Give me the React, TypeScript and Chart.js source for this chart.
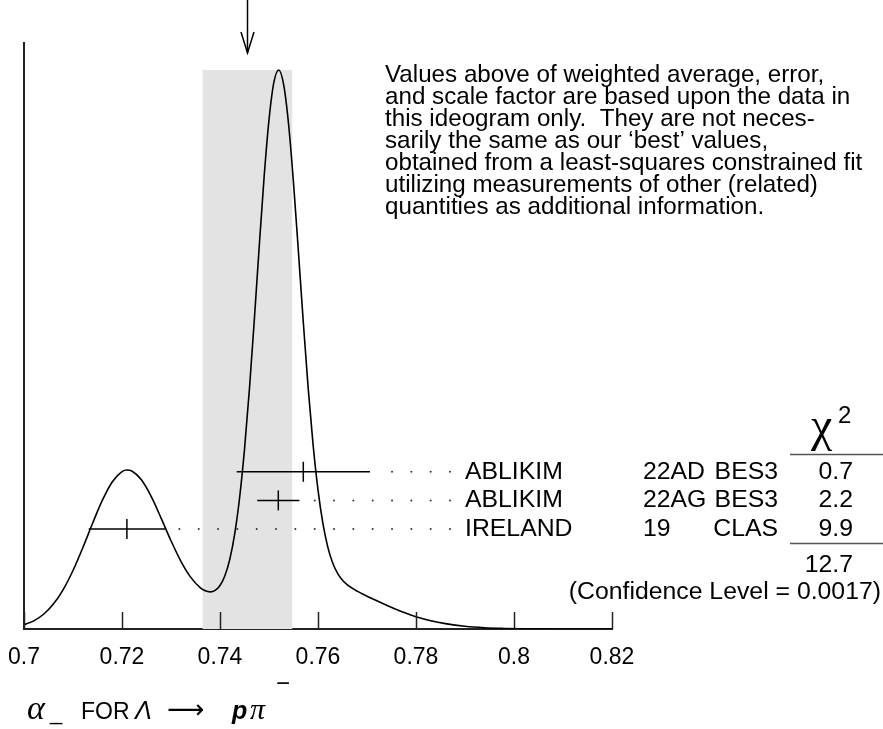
import React, { useEffect, useRef } from 'react';
import { Chart, registerables } from 'chart.js';

Chart.register(...registerables);

// ---------------- data ----------------
const curveX = [
  0.700, 0.702, 0.704, 0.706, 0.708, 0.710, 0.712, 0.714, 0.716, 0.718,
  0.720, 0.721, 0.722, 0.724, 0.726, 0.728, 0.730, 0.732, 0.734, 0.736,
  0.737, 0.738, 0.739, 0.740, 0.741, 0.742, 0.743, 0.744, 0.745, 0.746,
  0.747, 0.748, 0.749, 0.750, 0.751, 0.752, 0.753, 0.754, 0.755, 0.756,
  0.757, 0.758, 0.759, 0.760, 0.761, 0.762, 0.763, 0.764, 0.765, 0.766,
  0.768, 0.770, 0.772, 0.774, 0.776, 0.778, 0.780, 0.783, 0.786, 0.790,
  0.794, 0.798, 0.802, 0.806, 0.810, 0.815, 0.820,
];
const curveY = [
  0.44, 0.85, 1.54, 2.60, 4.12, 6.11, 8.49, 11.04, 13.45, 15.36,
  16.44, 16.60, 16.50, 15.55, 13.79, 11.56, 9.22, 7.10, 5.42, 4.30,
  3.99, 3.88, 4.03, 4.54, 5.56, 7.28, 9.93, 13.71, 18.76, 25.04,
  32.27, 39.92, 47.18, 53.18, 57.11, 58.38, 56.82, 52.69, 46.61, 39.43,
  32.03, 25.13, 19.23, 14.53, 11.02, 8.55, 6.89, 5.81, 5.09, 4.61,
  3.95, 3.43, 2.95, 2.48, 2.04, 1.64, 1.29, 0.87, 0.56, 0.28,
  0.13, 0.06, 0.02, 0.01, 0.00, 0.00, 0.00,
];

const authors = ['ABLIKIM', 'ABLIKIM', 'IRELAND'];
const docIds = ['22AD', '22AG', '19'];
const techs = ['BES3', 'BES3', 'CLAS'];
const values = [0.757, 0.7519, 0.721];
const errors = [0.0136, 0.0043, 0.0078];
const chi2 = ['0.7', '2.2', '9.9'];
const chi2Total = '12.7';
const confidenceText = '(Confidence Level = 0.0017)';

const avgValue = 0.7456;
const avgError = 0.0092;

const tickValues = [0.7, 0.72, 0.74, 0.76, 0.78, 0.8, 0.82];
const tickLabels = ['0.7', '0.72', '0.74', '0.76', '0.78', '0.8', '0.82'];

const noteLines = [
  'Values above of weighted average, error,',
  'and scale factor are based upon the data in',
  'this ideogram only.  They are not neces-',
  'sarily the same as our \u2018best\u2019 values,',
  'obtained from a least-squares constrained fit',
  'utilizing measurements of other (related)',
  'quantities as additional information.',
];

// ---------------- layout / style constants ----------------
const W = 883;
const H = 729;
const AREA = { left: 24, top: 43, right: 612, bottom: 629 };
const X_MIN = 0.7;
const X_MAX = 0.82;
const Y_MAX = 61.2;
const ROW_BASE = 10.44;
const ROW_STEP = 2.99;
const LABEL_COL_X = 465;
const DOC_COL_X = 643;
const TECH_RIGHT_X = 778;
const CHI_RIGHT_X = 853;
const LEADER_GAP_PX = 15;
const LEADER_START_GAP_PX = 12;
const DOT_STEP_PX = 19.33;
const SANS = '"Liberation Sans", Arial, Helvetica, sans-serif';
const SERIF = '"Liberation Serif", "Times New Roman", serif';
const INK = '#000';

const pxPerUnit = (AREA.right - AREA.left) / (X_MAX - X_MIN);
const rowY = (i: number) => ROW_BASE + ROW_STEP * (authors.length - 1 - i);

const decorPlugin = {
  id: 'ideogramDecor',
  afterDraw(chart: any) {
    const ctx = chart.ctx as CanvasRenderingContext2D;
    const xs = chart.scales.x;
    const ys = chart.scales.y;
    const area = chart.chartArea;
    ctx.save();

    // inward tick marks on x axis
    ctx.strokeStyle = '#222';
    ctx.lineWidth = 1.5;
    tickValues.forEach((v) => {
      const px = Math.round(xs.getPixelForValue(v)) + 0.5;
      ctx.beginPath();
      ctx.moveTo(px, area.bottom);
      ctx.lineTo(px, area.bottom - 17);
      ctx.stroke();
    });

    // arrow marking weighted average
    const ax = Math.round(xs.getPixelForValue(avgValue)) + 0.5;
    ctx.strokeStyle = INK;
    ctx.lineWidth = 1.5;
    ctx.beginPath();
    ctx.moveTo(ax, 0);
    ctx.lineTo(ax, area.top + 10);
    ctx.stroke();
    ctx.beginPath();
    ctx.moveTo(ax - 6.5, area.top - 11);
    ctx.lineTo(ax, area.top + 10);
    ctx.lineTo(ax + 6.5, area.top - 11);
    ctx.stroke();

    // note text
    ctx.fillStyle = INK;
    ctx.font = `24.2px ${SANS}`;
    ctx.textBaseline = 'middle';
    ctx.textAlign = 'left';
    noteLines.forEach((line, i) => {
      ctx.fillText(line, 385, 75 + i * 22);
    });

    // table rows
    ctx.font = `24.8px ${SANS}`;
    authors.forEach((a, i) => {
      const y = ys.getPixelForValue(rowY(i));
      ctx.textAlign = 'left';
      ctx.fillText(a, LABEL_COL_X, y);
      ctx.fillText(docIds[i], DOC_COL_X, y);
      ctx.textAlign = 'right';
      ctx.fillText(techs[i], TECH_RIGHT_X, y);
      ctx.fillText(chi2[i], CHI_RIGHT_X, y);
    });

    ctx.textBaseline = 'middle';
    ctx.textAlign = 'right';
    ctx.fillText(chi2Total, CHI_RIGHT_X, 565);
    ctx.fillText(confidenceText, 881, 592);

    // chi2 header
    ctx.textAlign = 'left';
    ctx.textBaseline = 'alphabetic';
    ctx.font = `48px ${SERIF}`;
    ctx.fillText('\u03C7', 811, 441);
    ctx.font = `24px ${SANS}`;
    ctx.fillText('2', 838, 423);

    ctx.strokeStyle = '#555';
    ctx.lineWidth = 1.5;
    ctx.beginPath();
    ctx.moveTo(790, 454.5);
    ctx.lineTo(W, 454.5);
    ctx.moveTo(790, 543.5);
    ctx.lineTo(W, 543.5);
    ctx.stroke();

    // axis title
    ctx.textAlign = 'left';
    ctx.textBaseline = 'alphabetic';
    const by = 719;
    ctx.font = `italic 34px ${SERIF}`;
    ctx.fillText('\u03B1', 27, by);
    ctx.font = `22px ${SANS}`;
    ctx.fillText('_', 50, by + 1);
    ctx.font = `23px ${SANS}`;
    ctx.fillText('FOR', 81, by);
    ctx.font = `italic 25px ${SANS}`;
    ctx.fillText('\u039B', 135, by);
    ctx.font = `26px "DejaVu Sans", sans-serif`;
    ctx.fillText('\u27F6', 167, by - 1);
    ctx.font = `bold italic 25px ${SANS}`;
    ctx.fillText('p', 232, by);
    ctx.font = `italic 30px ${SERIF}`;
    ctx.fillText('\u03C0', 250, by);
    ctx.font = `24px ${SANS}`;
    ctx.fillText('\u2212', 276, by - 28);

    ctx.restore();
  },
};

export default function App() {
  const canvasRef = useRef<HTMLCanvasElement | null>(null);

  useEffect(() => {
    const canvas = canvasRef.current;
    if (!canvas) return;

    const peak = Math.max(...curveY);
    const stepUnits = DOT_STEP_PX / pxPerUnit;
    const leaderEnd = X_MIN + (LABEL_COL_X - LEADER_GAP_PX - AREA.left) / pxPerUnit;

    const datasets: any[] = [];

    datasets.push({
      type: 'line',
      data: [
        { x: avgValue - avgError, y: peak },
        { x: avgValue + avgError, y: peak },
      ],
      fill: 'origin',
      backgroundColor: '#e3e3e3',
      borderColor: 'rgba(0,0,0,0)',
      borderWidth: 0,
      pointRadius: 0,
      order: 10,
    });

    datasets.push({
      type: 'line',
      data: curveX.map((x, i) => ({ x, y: curveY[i] })),
      borderColor: INK,
      borderWidth: 1.6,
      pointRadius: 0,
      cubicInterpolationMode: 'monotone',
      fill: false,
      order: 1,
    });

    values.forEach((v, i) => {
      const y = rowY(i);
      const barEnd = v + errors[i];
      datasets.push({
        type: 'line',
        data: [
          { x: v - errors[i], y },
          { x: barEnd, y },
        ],
        borderColor: INK,
        borderWidth: 1.5,
        pointRadius: 0,
        fill: false,
        order: 2,
      });
      datasets.push({
        type: 'line',
        data: [{ x: v, y }],
        showLine: false,
        pointStyle: 'line',
        pointRotation: 90,
        pointRadius: 10,
        pointBorderWidth: 1.5,
        pointBorderColor: INK,
        pointBackgroundColor: INK,
        order: 2,
      });
      const minStart = barEnd + LEADER_START_GAP_PX / pxPerUnit;
      const n = Math.floor((leaderEnd - minStart) / stepUnits);
      const start = leaderEnd - n * stepUnits;
      datasets.push({
        type: 'line',
        data: [
          { x: start, y },
          { x: leaderEnd + 0.0001, y },
        ],
        borderColor: '#333',
        borderWidth: 2,
        borderDash: [0, DOT_STEP_PX],
        borderCapStyle: 'round',
        pointRadius: 0,
        fill: false,
        order: 3,
      });
    });

    const chart = new Chart(canvas, {
      type: 'line',
      data: { datasets },
      options: {
        animation: false,
        responsive: true,
        maintainAspectRatio: false,
        events: [],
        layout: {
          padding: { left: 0, top: AREA.top, right: W - AREA.right, bottom: 0 },
        },
        plugins: {
          legend: { display: false },
          tooltip: { enabled: false },
        },
        scales: {
          x: {
            type: 'linear',
            min: X_MIN,
            max: X_MAX,
            afterBuildTicks: (axis: any) => {
              axis.ticks = tickValues.map((v) => ({ value: v }));
            },
            afterFit: (axis: any) => {
              axis.height = H - AREA.bottom;
              axis.paddingLeft = 0;
              axis.paddingRight = 0;
            },
            ticks: {
              callback: (_v: any, i: number) => tickLabels[i],
              font: { family: SANS, size: 23 },
              color: INK,
              padding: 15,
              maxRotation: 0,
              autoSkip: false,
            },
            grid: { display: false, drawTicks: false },
            border: { display: true, color: '#222', width: 2 },
          },
          y: {
            type: 'linear',
            min: 0,
            max: Y_MAX,
            afterFit: (axis: any) => {
              axis.width = AREA.left;
              axis.paddingTop = 0;
              axis.paddingBottom = 0;
            },
            ticks: { display: false },
            grid: { display: false, drawTicks: false },
            border: { display: true, color: '#222', width: 2 },
          },
        },
      },
      plugins: [decorPlugin],
    });

    return () => chart.destroy();
  }, []);

  return (
    <div style={{ position: 'fixed', left: 0, top: 0, width: W, height: H, background: '#fff' }}>
      <canvas ref={canvasRef} />
    </div>
  );
}
